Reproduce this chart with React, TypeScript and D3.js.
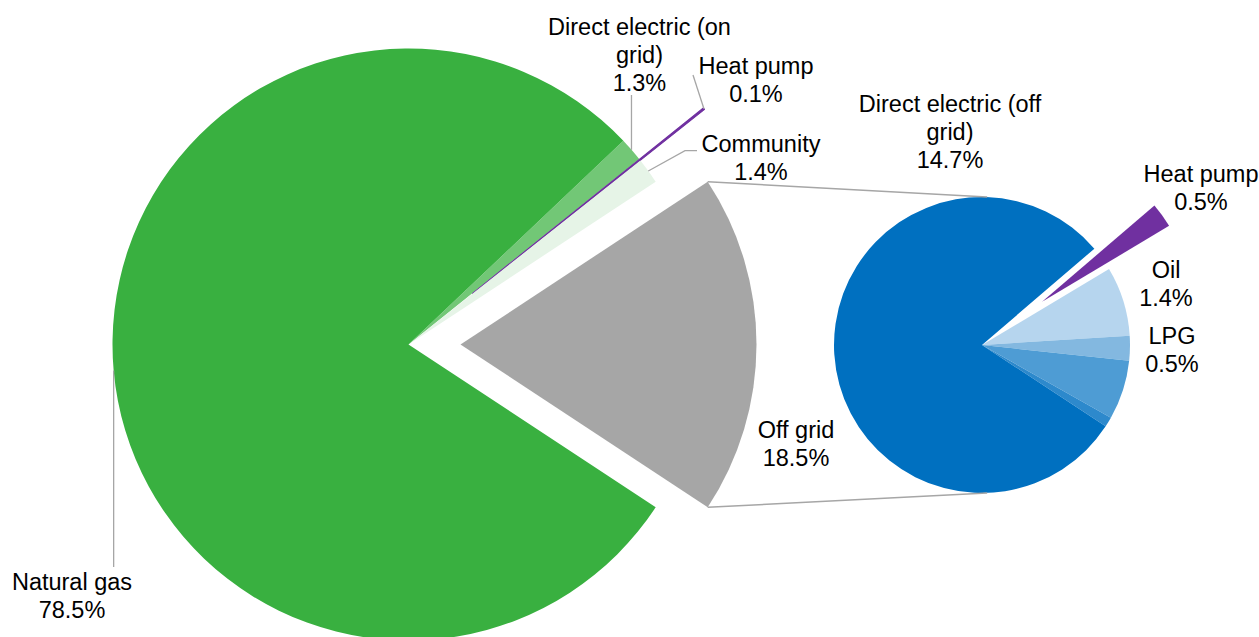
import { useMemo } from 'react';
import * as d3 from 'd3';

const W = 1259;
const H = 637;

// main pie (grid connection)
const mainLabels = ['Direct electric (on grid)', 'Heat pump', 'Community', 'Off grid', 'Natural gas'];
const mainValues = [1.3, 0.1, 1.4, 18.5, 78.5];
const mainColors = ['#72c776', '#7030a0', '#e6f4e7', '#a6a6a6', '#39b040'];

// secondary pie (breakdown of off grid)
const subLabels = ['Heat pump', 'Oil', 'LPG', 'Solid fuel', 'Other', 'Direct electric (off grid)'];
const subValues = [0.5, 1.4, 0.5, 1.2, 0.2, 14.7];
const subColors = ['#7030a0', '#b6d5ee', '#83b8e0', '#4e9cd4', '#2d89cc', '#0070c0'];

const MAIN = { cx: 408.5, cy: 344.5, r: 296 };
const SUB = { cx: 982, cy: 345, r: 148 };
const SUB_START = (49.4 * Math.PI) / 180;
const MAIN_EXPLODE: Record<number, number> = { 1: 82, 3: 52 };
const SUB_EXPLODE: Record<number, number> = { 0: 74 };

// label anchors: centre x, first baseline y; leader end points
const MAIN_LABEL_POS: ({ x: number; y: number; leader?: [number, number][] } | null)[] = [
  { x: 639.5, y: 35, leader: [[0, 95]] },
  { x: 756, y: 74, leader: [[693, 75]] },
  { x: 761, y: 152, leader: [[685, 150.7], [697, 150.7]] },
  { x: 796, y: 438 },
  { x: 72, y: 590, leader: [[0, 567]] },
];
const SUB_LABEL_POS: ({ x: number; y: number } | null)[] = [
  { x: 1201, y: 182 },
  { x: 1166, y: 278 },
  { x: 1172, y: 344 },
  null,
  null,
  { x: 950, y: 112 },
];

const FONT = '"Liberation Sans", Arial, sans-serif';
const FONT_SIZE = 23.5;
const LINE_H = 28;
const LEADER = '#a6a6a6';

function wrap(text: string, max = 20): string[] {
  const words = text.split(' ');
  const lines: string[] = [];
  let cur = '';
  words.forEach((w) => {
    const next = cur ? cur + ' ' + w : w;
    if (next.length > max && cur) {
      lines.push(cur);
      cur = w;
    } else cur = next;
  });
  if (cur) lines.push(cur);
  return lines;
}

const polar = (cx: number, cy: number, r: number, a: number): [number, number] => [
  cx + r * Math.sin(a),
  cy - r * Math.cos(a),
];

function Label({ x, y, name, value }: { x: number; y: number; name: string; value: number }) {
  const lines = [...wrap(name), `${value.toFixed(1)}%`];
  return (
    <text x={x} y={y} textAnchor="middle" fontFamily={FONT} fontSize={FONT_SIZE} fill="#000">
      {lines.map((l, i) => (
        <tspan key={i} x={x} y={y + i * LINE_H}>
          {l}
        </tspan>
      ))}
    </text>
  );
}

export default function App() {
  const { mainArcs, subArcs } = useMemo(() => {
    const total = d3.sum(mainValues);
    const offIdx = mainLabels.indexOf('Off grid');
    const before = d3.sum(mainValues.slice(0, offIdx));
    const start = Math.PI / 2 - ((before + mainValues[offIdx] / 2) / total) * 2 * Math.PI;
    const mainPie = d3
      .pie<number>()
      .sort(null)
      .value((d) => d)
      .startAngle(start)
      .endAngle(start + 2 * Math.PI);
    const subPie = d3
      .pie<number>()
      .sort(null)
      .value((d) => d)
      .startAngle(SUB_START)
      .endAngle(SUB_START + 2 * Math.PI);
    return { mainArcs: mainPie(mainValues), subArcs: subPie(subValues) };
  }, []);

  const mainArc = d3.arc<d3.PieArcDatum<number>>().innerRadius(0).outerRadius(MAIN.r);
  const subArc = d3.arc<d3.PieArcDatum<number>>().innerRadius(0).outerRadius(SUB.r);

  const offset = (a: d3.PieArcDatum<number>, d: number) => {
    const mid = (a.startAngle + a.endAngle) / 2;
    return [d * Math.sin(mid), -d * Math.cos(mid)];
  };

  // connector lines from exploded off grid slice to the secondary pie
  const off = mainArcs[mainLabels.indexOf('Off grid')];
  const [ox, oy] = offset(off, MAIN_EXPLODE[3]);
  const c1 = polar(MAIN.cx + ox, MAIN.cy + oy, MAIN.r, off.startAngle);
  const c2 = polar(MAIN.cx + ox, MAIN.cy + oy, MAIN.r, off.endAngle);
  const s1 = polar(SUB.cx, SUB.cy, SUB.r, (2 * Math.PI) / 180);
  const s2 = polar(SUB.cx, SUB.cy, SUB.r, (178 * Math.PI) / 180);

  return (
    <svg
      width={W}
      height={H}
      style={{ position: 'absolute', left: 0, top: 0, background: '#fff' }}
    >
      <g>
        {mainArcs.map((a, i) => {
          const [dx, dy] = offset(a, MAIN_EXPLODE[i] ?? 0);
          // the tiny heat pump wedge gets a stroke so it reads as a line, as in the original
          const thin = a.endAngle - a.startAngle < 0.01;
          return (
            <path
              key={i}
              d={mainArc(a) ?? ''}
              transform={`translate(${MAIN.cx + dx},${MAIN.cy + dy})`}
              fill={mainColors[i]}
              stroke={thin ? mainColors[i] : 'none'}
              strokeWidth={thin ? 1.1 : 0}
              strokeLinejoin="round"
            />
          );
        })}
      </g>
      <g>
        {subArcs.map((a, i) => {
          const [dx, dy] = offset(a, SUB_EXPLODE[i] ?? 0);
          return (
            <path
              key={i}
              d={subArc(a) ?? ''}
              transform={`translate(${SUB.cx + dx},${SUB.cy + dy})`}
              fill={subColors[i]}
            />
          );
        })}
      </g>
      <line x1={c1[0]} y1={c1[1]} x2={s1[0]} y2={s1[1]} stroke={LEADER} strokeWidth={1.5} />
      <line x1={c2[0]} y1={c2[1]} x2={s2[0]} y2={s2[1]} stroke={LEADER} strokeWidth={1.5} />

      {mainArcs.map((a, i) => {
        const pos = MAIN_LABEL_POS[i];
        if (!pos || !pos.leader) return null;
        const mid = (a.startAngle + a.endAngle) / 2;
        const start = polar(MAIN.cx, MAIN.cy, MAIN.r + (MAIN_EXPLODE[i] ?? 0), mid);
        const pts: [number, number][] = [start];
        pos.leader.forEach(([lx, ly], k) => {
          // a zero x means a vertical leader from the slice edge
          pts.push([lx === 0 && k === 0 ? start[0] : lx, ly]);
        });
        return (
          <path
            key={`ld${i}`}
            d={d3.line()(pts) ?? ''}
            fill="none"
            stroke={LEADER}
            strokeWidth={1.3}
          />
        );
      })}

      {mainArcs.map((a, i) => {
        const pos = MAIN_LABEL_POS[i];
        if (!pos) return null;
        return <Label key={`ml${i}`} x={pos.x} y={pos.y} name={mainLabels[i]} value={mainValues[i]} />;
      })}
      {subArcs.map((a, i) => {
        const pos = SUB_LABEL_POS[i];
        if (!pos) return null;
        return <Label key={`sl${i}`} x={pos.x} y={pos.y} name={subLabels[i]} value={subValues[i]} />;
      })}
    </svg>
  );
}
